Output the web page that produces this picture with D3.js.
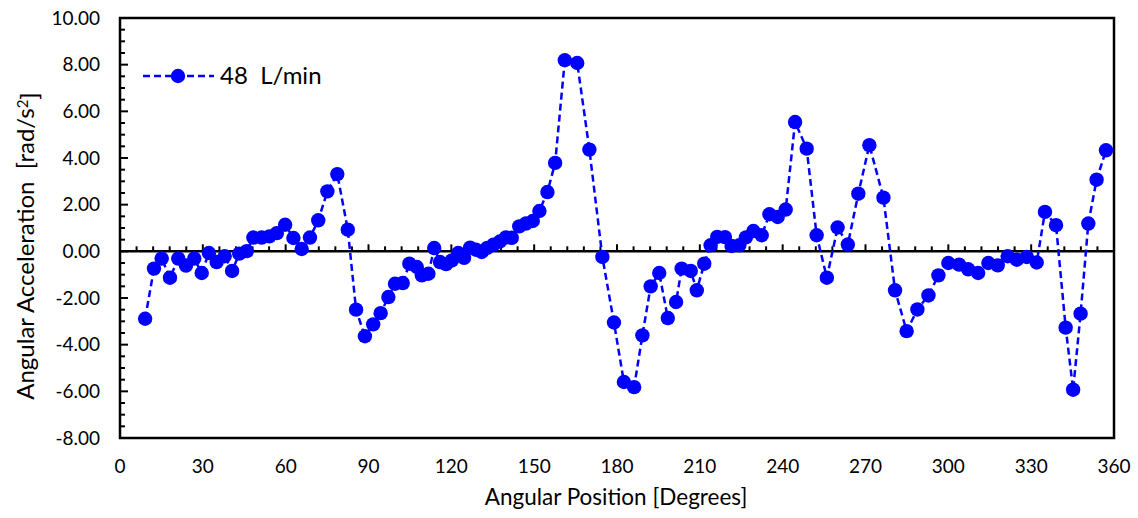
<!DOCTYPE html>
<html><head><meta charset="utf-8">
<script src="https://cdn.jsdelivr.net/npm/d3@7"></script>
<style>body{margin:0;background:#fff;} text{font-family:Lato, "Open Sans", sans-serif;}</style>
</head><body>
<svg id="chart" width="1138" height="518"></svg>
<script>
const angles = [9.1,12.3,15.1,18.1,21.1,23.9,26.9,29.6,32.2,35.0,37.9,40.6,43.2,45.9,48.3,51.3,54.1,56.8,59.8,62.8,65.8,68.8,71.8,75.1,78.7,82.5,85.5,88.7,91.7,94.4,97.2,99.6,102.4,104.8,107.5,109.3,111.7,113.8,115.9,118.1,120.2,122.5,124.6,126.8,128.9,131.0,133.0,135.2,137.6,139.7,141.9,144.6,147.0,149.5,151.9,154.8,157.6,161.1,165.6,170.0,174.7,178.9,182.5,186.2,189.2,192.2,195.3,198.4,201.4,203.4,206.7,208.9,211.6,213.9,216.3,219.1,221.5,224.3,226.7,229.4,232.4,235.2,238.2,241.1,244.5,248.7,252.3,256.0,259.9,263.6,267.4,271.4,276.5,280.7,284.9,288.8,292.8,296.4,300.0,303.9,307.2,310.8,314.5,317.9,321.5,324.8,328.4,332.0,335.0,339.0,342.5,345.2,347.9,350.7,353.7,357.1];
const accel = [-2.89,-0.74,-0.31,-1.13,-0.31,-0.61,-0.31,-0.93,-0.07,-0.46,-0.21,-0.84,-0.10,0.01,0.59,0.59,0.64,0.78,1.14,0.57,0.10,0.59,1.33,2.57,3.31,0.93,-2.50,-3.64,-3.13,-2.65,-1.96,-1.39,-1.36,-0.53,-0.67,-1.03,-0.96,0.14,-0.46,-0.55,-0.39,-0.07,-0.28,0.16,0.07,-0.03,0.15,0.28,0.42,0.59,0.58,1.07,1.19,1.30,1.73,2.54,3.79,8.19,8.07,4.36,-0.24,-3.05,-5.60,-5.82,-3.60,-1.50,-0.93,-2.86,-2.17,-0.74,-0.84,-1.67,-0.53,0.26,0.62,0.61,0.23,0.26,0.60,0.87,0.69,1.59,1.47,1.79,5.54,4.40,0.69,-1.13,1.02,0.29,2.47,4.55,2.30,-1.67,-3.42,-2.49,-1.89,-1.03,-0.50,-0.57,-0.77,-0.93,-0.50,-0.60,-0.21,-0.36,-0.24,-0.48,1.69,1.12,-3.27,-5.93,-2.67,1.19,3.07,4.33];
const xTicks = [0,30,60,90,120,150,180,210,240,270,300,330,360];
const yTicks = [-8,-6,-4,-2,0,2,4,6,8,10];
const seriesName = "48  L/min";
const xTitle = "Angular Position [Degrees]";
const yTitle = "Angular Acceleration  [rad/s";

const L = 120, R = 1114, T = 18, B = 438;
const svg = d3.select("#chart");
const x = d3.scaleLinear().domain([0,360]).range([L,R]);
const y = d3.scaleLinear().domain([-8,10]).range([B,T]);
const blue = "#0000FF";
const fmt = v => d3.format(".2f")(v).replace("\u2212","-");

// frame
svg.append("rect").attr("x",L).attr("y",T).attr("width",R-L).attr("height",B-T)
  .attr("fill","none").attr("stroke","#000").attr("stroke-width",2.5);

// y minor & major ticks (inward)
const yMinor = d3.range(-8,10.001,0.5);
svg.append("g").selectAll("line").data(yMinor).join("line")
  .attr("x1",L).attr("x2",d => L + (Math.abs(d/2-Math.round(d/2))<1e-6 ? 8 : 5))
  .attr("y1",d=>y(d)).attr("y2",d=>y(d)).attr("stroke","#000").attr("stroke-width",2);

// y tick labels
svg.append("g").selectAll("text").data(yTicks).join("text")
  .attr("x",100).attr("y",d=>y(d)).attr("dy","0.35em").attr("text-anchor","end")
  .attr("font-size",19).attr("fill","#000").text(d=>fmt(d));

// zero line with ticks every 6 deg
svg.append("line").attr("x1",L).attr("x2",R).attr("y1",y(0)).attr("y2",y(0))
  .attr("stroke","#000").attr("stroke-width",2.5);
const xMinor = d3.range(0,360.001,6);
svg.append("g").selectAll("line").data(xMinor).join("line")
  .attr("x1",d=>x(d)).attr("x2",d=>x(d)).attr("y1",y(0))
  .attr("y2",d=> y(0) - (d%30===0 ? 7 : 5)).attr("stroke","#000").attr("stroke-width",2);

// x tick labels
svg.append("g").selectAll("text").data(xTicks).join("text")
  .attr("x",d=>x(d)).attr("y",466).attr("dy","0.35em").attr("text-anchor","middle")
  .attr("font-size",19).attr("fill","#000").text(d=>d);

// titles
svg.append("text").attr("x",616).attr("y",497).attr("dy","0.35em").attr("text-anchor","middle")
  .attr("font-size",22.5).attr("fill","#000").text(xTitle);
const yt = svg.append("text").attr("transform","translate(26,246) rotate(-90)")
  .attr("dy","0.35em").attr("text-anchor","middle").attr("font-size",24).attr("fill","#000")
  .attr("xml:space","preserve").style("white-space","pre");
yt.append("tspan").text(yTitle);
yt.append("tspan").attr("dy","-0.4em").attr("font-size",15).text("2");
yt.append("tspan").attr("dy","0.4em").text("]");

// data
const data = angles.map((a,i)=>({a, v: accel[i]}));
const line = d3.line().x(d=>x(d.a)).y(d=>y(d.v));
svg.append("path").datum(data).attr("d",line).attr("fill","none")
  .attr("stroke",blue).attr("stroke-width",2.5).attr("stroke-dasharray","7,4");
svg.append("g").selectAll("circle").data(data).join("circle")
  .attr("cx",d=>x(d.a)).attr("cy",d=>y(d.v)).attr("r",7.2).attr("fill",blue);

// legend
const lg = svg.append("g");
lg.append("line").attr("x1",143).attr("x2",214).attr("y1",76).attr("y2",76)
  .attr("stroke",blue).attr("stroke-width",2.5).attr("stroke-dasharray","7,4");
lg.append("circle").attr("cx",178).attr("cy",76).attr("r",7.2).attr("fill",blue);
lg.append("text").attr("x",220).attr("y",76).attr("dy","0.35em").attr("font-size",24)
  .attr("fill","#000").style("white-space","pre").attr("xml:space","preserve").text(seriesName);
</script>
</body></html>
